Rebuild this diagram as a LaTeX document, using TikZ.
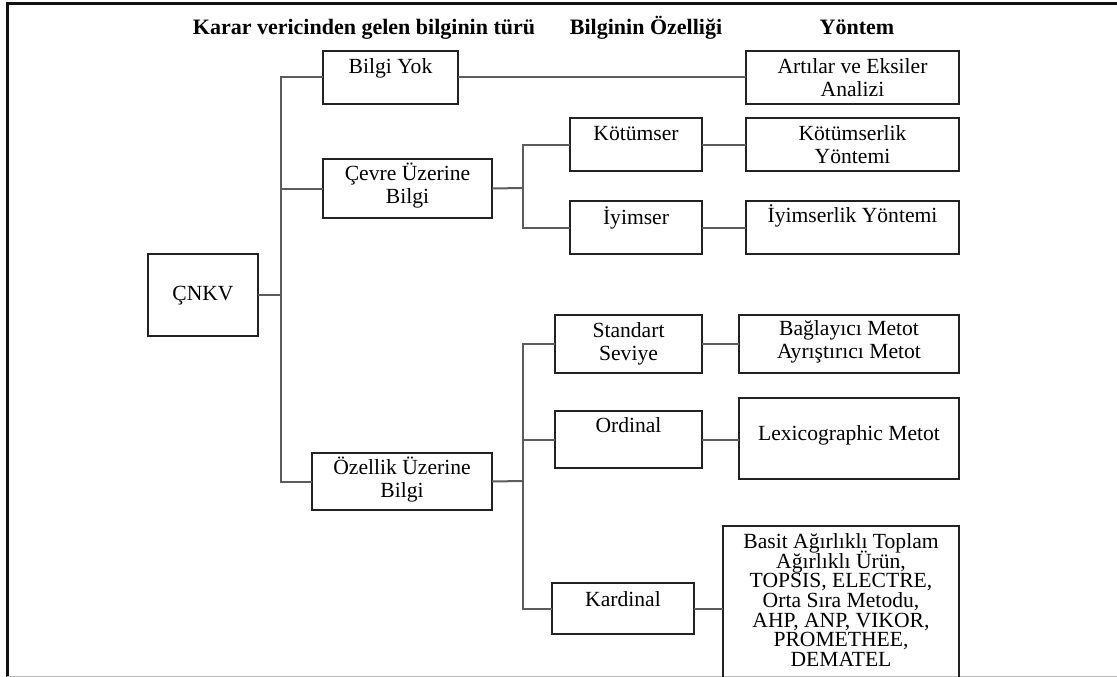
\documentclass[tikz,border=0pt]{standalone}
\usepackage{fontspec}
\setmainfont{Liberation Serif}
\definecolor{boxline}{HTML}{222222}
\definecolor{wirecol}{HTML}{5C5C5C}
\definecolor{framecol}{HTML}{111111}
\definecolor{rulecol}{HTML}{BBBBBB}
% \mkbox{name}{x1}{y1}{x2}{y2}: an empty framed box between two corners
\newcommand\mkbox[5]{%
  \node[box, minimum width={#4-#2}, minimum height={#5-#3}] (#1) at ({(#2+#4)/2},{(#3+#5)/2}) {};}
% close-set lines with an even baseline spacing
\newcommand\tightlines{\fontsize{21.6}{19.7}\selectfont\lineskiplimit=-30pt\relax}
\begin{document}
\begin{tikzpicture}[x=1pt, y=-1pt,
  box/.style={draw=boxline, line width=1.6pt, inner sep=0pt, outer sep=0pt},
  % anchored on the baseline of the last line
  lbl/.style={inner sep=0pt, anchor=base, align=center, font=\fontsize{21.6}{23}\selectfont},
  tight/.style={font=\tightlines},
  head/.style={inner sep=0pt, anchor=base, font=\fontsize{22}{23}\selectfont\bfseries},
  wire/.style={draw=wirecol, line width=2pt}]
\useasboundingbox (0,0) rectangle (1117,677);
\clip (0,0) rectangle (1117,677);
\fill[white] (0,0) rectangle (1117,677);

% page frame
\draw[framecol, line width=3pt] (7,677) -- (7,4) -- (1117,4);
\draw[rulecol, line width=1pt] (7,676) -- (1117,676);

% column headings
\node[head] (h1) at (364,34.5) {Karar vericinden gelen bilginin türü};
\node[head] (h2) at (646,34.5) {Bilginin Özelliği};
\node[head] (h3) at (857,34.5) {Yöntem};

% boxes
\mkbox{cnkv}{148}{254}{258}{336}
\mkbox{yok}{323}{51}{458}{104}
\mkbox{cevre}{323}{159}{492}{218}
\mkbox{ozl}{312}{453}{492}{510}
\mkbox{kot}{570}{118}{702}{171}
\mkbox{iyi}{570}{201}{702}{254}
\mkbox{std}{555}{315}{702}{373}
\mkbox{ord}{555}{411}{702}{468}
\mkbox{kar}{552}{583}{694}{634}
\mkbox{art}{746}{51}{959}{104}
\mkbox{kotY}{746}{118}{959}{171}
\mkbox{iyiY}{746}{201}{959}{254}
\mkbox{bag}{739}{315}{959}{373}
\mkbox{lex}{739}{398}{959}{479}
\mkbox{bas}{723}{526}{959}{700}

% box texts
\node[lbl] (cnkv-t) at (203,300) {ÇNKV};
\node[lbl] (yok-t) at (390.5,74) {Bilgi Yok};
\node[lbl] (cevre-t) at (407.5,203) {Çevre Üzerine\\Bilgi};
\node[lbl] (ozl-t) at (402,497) {Özellik Üzerine\\Bilgi};
\node[lbl] (kot-t) at (636,140.5) {Kötümser};
\node[lbl] (iyi-t) at (636,224) {İyimser};
\node[lbl] (std-t) at (628.5,360) {Standart\\Seviye};
\node[lbl] (ord-t) at (628.5,432.5) {Ordinal};
\node[lbl] (kar-t) at (623,606) {Kardinal};
\node[lbl] (art-t) at (852.5,96) {Artılar ve Eksiler\\Analizi};
\node[lbl] (kotY-t) at (852.5,163) {Kötümserlik\\Yöntemi};
\node[lbl] (iyiY-t) at (852.5,222) {İyimserlik Yöntemi};
\node[lbl] (bag-t) at (849,358) {Bağlayıcı Metot\\Ayrıştırıcı Metot};
\node[lbl] (lex-t) at (849,440) {Lexicographic Metot};
\node[lbl, tight] (bas-t) at (841,666.5) {Basit Ağırlıklı Toplam\\Ağırlıklı Ürün,\\TOPSIS, ELECTRE,\\Orta Sıra Metodu,\\AHP, ANP, VIKOR,\\PROMETHEE,\\DEMATEL};

% junctions of the branch lines
\coordinate (j1) at (281,295);
\coordinate (j2) at (523,188);
\coordinate (j3) at (523,481);

% first level
\draw[wire] (cnkv.east) -- (j1);
\draw[wire] (yok.west) -| (j1);
\draw[wire] (ozl.west) -| (j1);
\draw[wire] (cevre.west) -- (cevre.west -| j1);

% second level
\draw[wire] (cevre.east) -- (j2);
\draw[wire] (kot.west) -| (j2);
\draw[wire] (iyi.west) -| (j2);
\draw[wire] (ozl.east) -- (j3);
\draw[wire] (std.west) -| (j3);
\draw[wire] (kar.west) -| (j3);
\draw[wire] (ord.west) -- (ord.west -| j3);

% methods
\draw[wire] (yok.east) -- (art.west);
\draw[wire] (kot.east) -- (kotY.west);
\draw[wire] (iyi.east) -- (iyiY.west);
\draw[wire] (std.east) -- (bag.west);
\draw[wire] (ord.east) -- (ord.east -| lex.west);
\draw[wire] (kar.east) -- (kar.east -| bas.west);
\end{tikzpicture}
\end{document}
